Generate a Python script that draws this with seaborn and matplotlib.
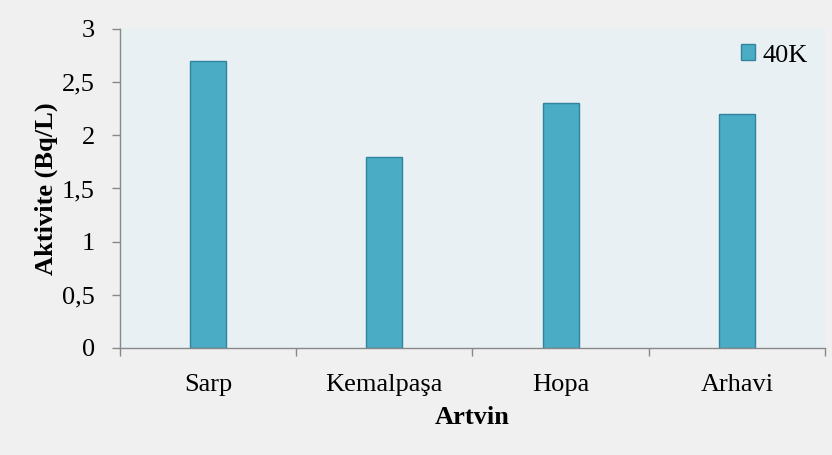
import matplotlib
matplotlib.use("Agg")
import matplotlib.pyplot as plt
import seaborn as sns
import pandas as pd

locations = ["Sarp", "Kemalpaşa", "Hopa", "Arhavi"]
k40_activity = [2.7, 1.8, 2.3, 2.2]
y_ticks = [0, 0.5, 1, 1.5, 2, 2.5, 3]
y_tick_labels = ["0", "0,5", "1", "1,5", "2", "2,5", "3"]

df = pd.DataFrame({"Artvin": locations, "Aktivite": k40_activity, "Seri": "40K"})

sns.set_theme(style="white")
plt.rcParams["font.family"] = ["Liberation Serif", "DejaVu Serif"]
plt.rcParams["text.color"] = "black"
plt.rcParams["axes.labelcolor"] = "black"
plt.rcParams["xtick.color"] = "black"
plt.rcParams["ytick.color"] = "black"

fig = plt.figure(figsize=(8.32, 4.55), dpi=100, facecolor="#f0f0f0")
ax = fig.add_axes([0.1442, 0.2352, 0.8474, 0.7011])
ax.set_facecolor("#e8f0f4")

sns.barplot(data=df, x="Artvin", y="Aktivite", hue="Seri", palette=["#4bacc6"],
            width=0.205, edgecolor="#31849b", linewidth=1.0, ax=ax, saturation=1)

ax.set_ylim(0, 3)
ax.set_xlim(-0.5, 3.5)
ax.set_yticks(y_ticks)
ax.set_yticklabels(y_tick_labels, fontsize=19)
ax.set_xticks([-0.5, 0.5, 1.5, 2.5, 3.5])
ax.set_xticklabels([])
ax.set_xticks(range(len(locations)), minor=True)
ax.set_xticklabels(locations, minor=True, fontsize=19)
ax.tick_params(axis="x", which="minor", length=0, pad=19, labelcolor="black")
ax.tick_params(axis="x", which="major", length=6, width=1, color="#888888", direction="out", bottom=True)
ax.tick_params(axis="y", length=6, width=1, color="#888888", direction="out", left=True, pad=12,
               labelcolor="black")

for side in ["top", "right"]:
    ax.spines[side].set_visible(False)
for side in ["left", "bottom"]:
    ax.spines[side].set_color("#888888")
    ax.spines[side].set_linewidth(1.0)

ax.set_xlabel("Artvin", fontsize=19, fontweight="bold", labelpad=7, color="black")
ax.set_ylabel("Aktivite (Bq/L)", fontsize=19, fontweight="bold", labelpad=3, color="black")

leg = ax.legend(loc="upper right", bbox_to_anchor=(0.990, 0.985), frameon=False, fontsize=19,
                handlelength=0.55, handleheight=0.55, handletextpad=0.25, borderaxespad=0.0)
for t in leg.get_texts():
    t.set_color("black")

fig.savefig("out.png", dpi=100, facecolor=fig.get_facecolor())
